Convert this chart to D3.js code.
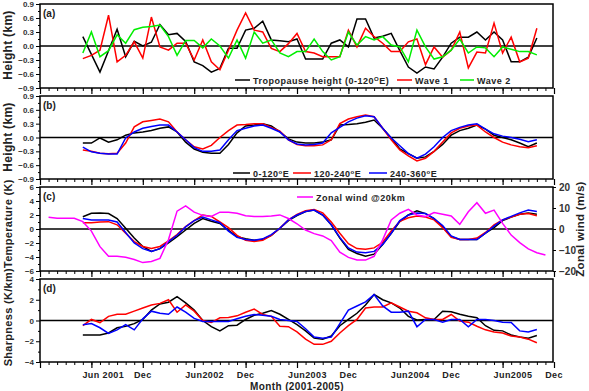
<!DOCTYPE html>
<html>
<head>
<meta charset="utf-8">
<script src="https://cdn.jsdelivr.net/npm/d3@7"></script>
<style>
  body { margin: 0; background: #fff; }
  text { font-family: "Liberation Sans", Arial, sans-serif; font-weight: bold; }
</style>
</head>
<body>
<script>
// month index: 0 = Dec 2000, data run May 2001 (5) .. Oct 2005 (58)
var firstMonth = 5;
var windFirstMonth = 1;

// (a) tropopause height and waves (km)
var tropHeight = [0.2,-0.18,-0.56,-0.1,0.36,-0.23,0.1,0.0,0.08,0.46,0.24,0.27,0.1,-0.34,-0.42,-0.56,-0.48,-0.05,-0.05,0.34,0.38,0.53,0.13,0.11,0.09,0.15,-0.28,-0.28,-0.28,0.06,0.13,-0.02,0.58,0.58,0.17,0.21,0.27,-0.1,-0.45,-0.58,-0.45,-0.49,-0.24,0.06,0.19,0.19,0.3,0.13,0.3,0.13,-0.34,-0.34,-0.24,0.17];
var wave1 = [-0.27,-0.2,-0.09,0.66,-0.34,-0.2,0.09,-0.26,0.62,-0.02,-0.09,0.06,0.06,-0.3,0.13,-0.34,-0.51,-0.09,0.34,0.71,0.34,0.3,-0.05,-0.12,0.05,0.27,-0.12,-0.15,-0.23,-0.23,-0.23,0.34,-0.02,0.38,0.2,0.06,-0.12,-0.12,0.09,0.15,-0.4,-0.02,-0.24,-0.09,0.3,-0.47,-0.13,-0.15,0.49,-0.15,0.19,-0.34,-0.26,0.38];
var wave2 = [-0.15,0.3,-0.23,-0.1,0.24,0.06,0.35,0.4,0.42,0.45,0.2,-0.2,0.12,0.12,-0.04,0.15,0.0,-0.26,0.13,-0.26,0.3,0.06,0.13,-0.15,-0.23,-0.12,-0.12,0.15,-0.12,-0.3,-0.23,0.3,0.02,0.2,0.13,0.2,0.02,-0.02,-0.34,0.34,-0.02,-0.28,-0.23,-0.09,0.15,-0.15,-0.02,-0.04,-0.23,-0.02,-0.07,-0.12,-0.12,-0.19];

// (b) height by longitude sector (km)
var hgt0_120 = [-0.12,-0.12,-0.01,-0.1,-0.05,0.05,0.1,0.12,0.15,0.2,0.23,0.12,-0.1,-0.25,-0.32,-0.34,-0.34,-0.15,0.1,0.25,0.27,0.3,0.25,0.12,-0.03,-0.1,-0.12,-0.12,-0.1,-0.05,0.27,0.28,0.3,0.33,0.38,0.2,-0.01,-0.25,-0.35,-0.45,-0.42,-0.3,-0.15,0.05,0.15,0.2,0.27,0.18,0.05,0.0,-0.05,-0.12,-0.2,-0.12];
var hgt120_240 = [-0.27,-0.3,-0.34,-0.35,-0.34,-0.12,0.23,0.34,0.37,0.4,0.34,0.12,-0.05,-0.2,-0.25,-0.17,0.0,0.15,0.27,0.28,0.3,0.3,0.22,0.14,-0.05,-0.15,-0.18,-0.18,-0.16,-0.05,0.3,0.4,0.45,0.49,0.45,0.2,-0.05,-0.27,-0.4,-0.51,-0.45,-0.3,-0.1,0.1,0.2,0.25,0.27,0.12,0.0,-0.1,-0.16,-0.2,-0.22,-0.18];
var hgt240_360 = [-0.21,-0.31,-0.34,-0.36,-0.36,-0.01,0.12,0.2,0.24,0.27,0.27,0.12,-0.05,-0.22,-0.3,-0.3,-0.27,-0.05,0.15,0.2,0.25,0.27,0.2,0.12,-0.05,-0.14,-0.16,-0.15,-0.12,0.1,0.22,0.34,0.42,0.47,0.45,0.2,-0.01,-0.18,-0.35,-0.45,-0.36,-0.2,0.0,0.15,0.22,0.27,0.3,0.18,0.08,0.03,0.0,-0.04,-0.09,-0.05];

// (c) temperature (K) and zonal wind at 20 km (m/s)
var temp0_120 = [1.76,2.24,2.3,2.2,1.5,0.1,-1.3,-2.5,-3.2,-2.8,-2.0,-1.1,-0.14,0.8,1.5,1.1,0.8,-0.2,-1.1,-1.4,-1.6,-1.5,-0.9,0.1,1.2,1.9,2.5,2.7,2.0,0.6,-1.3,-2.9,-3.5,-3.9,-3.6,-2.2,-0.6,1.05,2.0,2.6,2.2,1.5,0.3,-1.1,-1.5,-1.5,-1.5,-0.6,0.2,1.2,1.7,2.1,2.3,2.1];
var temp120_240 = [0.9,0.9,1.0,1.05,0.6,-0.6,-1.8,-2.5,-2.8,-2.5,-1.7,-0.8,0.33,1.2,2.0,1.8,1.0,0.2,-0.9,-1.6,-1.8,-1.6,-0.9,0.1,1.3,2.1,2.6,2.8,2.3,1.0,-0.6,-2.1,-2.8,-2.9,-2.7,-1.9,-0.3,1.1,1.6,1.86,1.7,1.3,0.2,-1.2,-1.5,-1.5,-1.3,-0.5,0.6,1.3,1.7,2.1,2.2,1.9];
var temp240_360 = [1.5,1.3,1.3,1.3,1.0,-0.5,-2.0,-2.8,-3.2,-2.8,-1.8,-0.9,0.3,1.2,1.7,1.3,0.9,-0.3,-1.2,-1.5,-1.6,-1.4,-0.8,0.1,1.3,2.0,2.5,2.7,2.0,0.6,-1.2,-2.7,-3.3,-3.4,-3.2,-2.2,-0.6,1.2,2.0,2.3,2.2,1.5,0.5,-1.0,-1.5,-1.5,-1.5,-0.6,0.4,1.3,1.8,2.3,2.7,2.5];
var zonalWind = [5.6,5.1,5.1,5.1,3.5,-1,-8.4,-13,-13,-13.5,-14.5,-16,-15.5,-14,-5,8.5,11,8,6.5,6.0,8.0,8.0,7.5,6.3,5.9,5.9,6.2,6.7,5.0,2.5,-0.5,-2.2,-3.3,-5.5,-11,-13.5,-14.8,-14.8,-13,-5.2,4.3,7.5,9.4,6.7,5.9,7.8,7.0,6.2,2.2,8.2,12.5,7.5,9,2.7,-2.9,-6.5,-9.5,-11.3,-12.4];

// (d) sharpness (K/km)
var sharp0_120 = [-1.4,-1.4,-1.4,-1.2,-0.7,-0.55,-0.3,0.1,1.0,1.6,1.76,2.3,1.7,1.0,0.0,-0.6,-1.0,-0.5,-0.45,0.1,0.5,0.7,0.96,0.6,0.1,-0.4,-1.0,-1.7,-1.8,-1.5,-0.5,0.1,0.7,1.5,2.5,2.0,1.7,1.2,0.4,0.05,0.1,0.1,0.9,0.85,0.6,0.4,0.26,-0.5,-0.95,-1.0,-1.4,-1.6,-1.7,-1.44];
var sharp120_240 = [-0.5,0.1,-0.2,0.4,0.6,0.6,0.9,1.2,1.5,1.65,2.0,0.8,1.5,0.9,0.0,-0.2,0.26,0.3,0.45,0.8,1.1,0.58,0.4,-0.55,-0.6,-1.1,-1.8,-2.3,-2.3,-2.0,-1.2,-0.5,0.1,1.2,1.3,1.3,1.7,1.3,0.9,0.74,0.26,0.1,0.1,0.58,-0.06,-0.16,-0.55,-0.9,-1.1,-1.2,-1.5,-1.6,-1.8,-2.15];
var sharp240_360 = [-0.4,-0.3,-0.7,-1.25,-0.9,-0.4,-0.9,0.16,0.9,0.7,0.6,1.3,0.8,0.2,-0.1,-0.1,-0.1,-0.1,0.16,0.4,0.58,0.5,0.4,0.1,0.0,-0.1,-0.8,-1.6,-1.7,-1.6,-0.3,1.0,1.4,1.8,2.5,1.4,0.8,0.8,0.9,-0.6,0.1,0.1,-0.16,0.1,0.1,-0.6,0.1,0.1,0.0,-0.16,-0.2,-1.0,-1.1,-0.86];

// axis ticks and labels
var heightTicks = [0.9, 0.6, 0.3, 0.0, -0.3, -0.6, -0.9];
var tempTicks = [6, 4, 2, 0, -2, -4, -6];
var sharpTicks = [4, 2, 0, -2, -4];
var windTicks = [20, 10, 0, -10, -20];
var monthTicks = [6, 12, 18, 24, 30, 36, 42, 48, 54, 60];
var monthLabels = ["Jun 2001", "Dec", "Jun2002", "Dec", "Jun2003", "Dec", "Jun2004", "Dec", "Jun2005", "Dec"];

var width = 589, height = 391;
var left = 40, right = 553;

var svg = d3.select("body").append("svg")
    .attr("width", width)
    .attr("height", height);

var x = d3.scaleLinear().domain([0, 60]).range([left, 554]);

// titleAnchor: where along the rotated axis the title sits
var panels = [
  { tag: "(a)", top: 4, bottom: 88, domain: [-0.9, 0.9], ticks: heightTicks, fmt: d3.format(".1f"), title: "Height (km)", titleY: 45, anchor: "middle",
    series: [{ data: tropHeight, color: "#000000" }, { data: wave1, color: "#ff0000" }, { data: wave2, color: "#00ee00" }] },
  { tag: "(b)", top: 96, bottom: 179, domain: [-0.9, 0.9], ticks: heightTicks, fmt: d3.format(".1f"), title: "Height (km)", titleY: 137, anchor: "middle",
    series: [{ data: hgt0_120, color: "#000000" }, { data: hgt120_240, color: "#ff0000" }, { data: hgt240_360, color: "#0000ff" }] },
  { tag: "(c)", top: 187, bottom: 271, domain: [-6, 6], ticks: tempTicks, fmt: d3.format("d"), title: "Temperature (K)", titleY: 268, anchor: "start",
    series: [{ data: temp0_120, color: "#000000" }, { data: temp120_240, color: "#ff0000" }, { data: temp240_360, color: "#0000ff" }] },
  { tag: "(d)", top: 279, bottom: 362, domain: [-4, 4], ticks: sharpTicks, fmt: d3.format("d"), title: "Sharpness (K/km)", titleY: 268, anchor: "end",
    series: [{ data: sharp0_120, color: "#000000" }, { data: sharp120_240, color: "#ff0000" }, { data: sharp240_360, color: "#0000ff" }] }
];

panels.forEach(function(p, pi) {
  var y = d3.scaleLinear().domain(p.domain).range([p.bottom, p.top]);
  var g = svg.append("g");

  // monthly minor ticks and half-year major ticks, hanging below the frame
  g.append("g")
      .attr("transform", "translate(0," + p.bottom + ")")
      .call(d3.axisBottom(x).tickValues(d3.range(0, 61)).tickSize(3).tickFormat(""))
      .call(function(s) { s.select(".domain").remove(); s.selectAll("line").attr("stroke-width", 1); });
  g.append("g")
      .attr("transform", "translate(0," + p.bottom + ")")
      .call(d3.axisBottom(x).tickValues(monthTicks.concat([0])).tickSize(6).tickFormat(""))
      .call(function(s) { s.select(".domain").remove(); s.selectAll("line").attr("stroke-width", 1.2); });

  // left axis
  var minor = [];
  for (var i = 0; i < p.ticks.length - 1; i++) minor.push((p.ticks[i] + p.ticks[i + 1]) / 2);
  g.append("g")
      .attr("transform", "translate(" + left + ",0)")
      .call(d3.axisLeft(y).tickValues(minor).tickSize(2).tickFormat(""))
      .call(function(s) { s.select(".domain").remove(); });
  g.append("g")
      .attr("transform", "translate(" + left + ",0)")
      .call(d3.axisLeft(y).tickValues(p.ticks).tickSize(4).tickPadding(2).tickFormat(p.fmt))
      .call(function(s) {
        s.select(".domain").remove();
        s.selectAll("text").attr("font-size", 8).attr("fill", "#333").attr("font-family", "Liberation Sans, Arial, sans-serif").attr("font-weight", "bold");
      });

  // zero line
  g.append("line")
      .attr("x1", left).attr("x2", right)
      .attr("y1", y(0)).attr("y2", y(0))
      .attr("stroke", "#000").attr("stroke-width", 1.5);

  var line = d3.line()
      .x(function(d, i) { return x(firstMonth + i); })
      .y(function(d) { return y(d); });

  p.series.forEach(function(s) {
    g.append("path")
        .attr("d", line(s.data))
        .attr("fill", "none")
        .attr("stroke", s.color)
        .attr("stroke-width", 1.5);
  });

  if (pi === 2) {
    var yw = d3.scaleLinear().domain([-20, 20]).range([p.bottom, p.top]);
    var wline = d3.line()
        .x(function(d, i) { return x(windFirstMonth + i); })
        .y(function(d) { return yw(d); });
    g.append("path")
        .attr("d", wline(zonalWind))
        .attr("fill", "none")
        .attr("stroke", "#ff00ff")
        .attr("stroke-width", 1.5);
    g.append("g")
        .attr("transform", "translate(" + right + ",0)")
        .call(d3.axisRight(yw).tickValues(windTicks).tickSize(3).tickPadding(3))
        .call(function(s) {
          s.select(".domain").remove();
          s.selectAll("text").attr("font-size", 10).attr("fill", "#333").attr("font-family", "Liberation Sans, Arial, sans-serif").attr("font-weight", "bold");
        });
    svg.append("text")
        .attr("transform", "translate(584," + ((p.top + p.bottom) / 2) + ") rotate(-90)")
        .attr("text-anchor", "middle")
        .attr("font-size", 11.5)
        .attr("letter-spacing", 0.3)
        .attr("fill", "#222")
        .text("Zonal wind (m/s)");
  }

  // frame
  g.append("rect")
      .attr("x", left).attr("y", p.top)
      .attr("width", right - left).attr("height", p.bottom - p.top)
      .attr("fill", "none").attr("stroke", "#000").attr("stroke-width", 1.5);

  g.append("text")
      .attr("x", left + 3).attr("y", p.top + 13)
      .attr("font-size", 10)
      .attr("fill", "#222")
      .text(p.tag);

  svg.append("text")
      .attr("transform", "translate(12," + p.titleY + ") rotate(-90)")
      .attr("text-anchor", p.anchor)
      .attr("font-size", p.anchor === "middle" ? 12 : 11)
      .attr("letter-spacing", 0.3)
      .attr("fill", "#222")
      .text(p.title);
});

// legends
function legendItem(x0, x1, yy, color, parts) {
  svg.append("line")
      .attr("x1", x0).attr("x2", x1).attr("y1", yy).attr("y2", yy)
      .attr("stroke", color).attr("stroke-width", 1.5);
  var t = svg.append("text")
      .attr("x", x1 + 3).attr("y", yy + 3.5)
      .attr("font-size", 9)
      .attr("letter-spacing", 0.5)
      .attr("fill", "#222");
  parts.forEach(function(pt) {
    var ts = t.append("tspan").text(pt.t);
    if (pt.sup) ts.attr("font-size", 6).attr("dy", -3);
    if (pt.down) ts.attr("dy", 3);
  });
}

legendItem(235, 250, 80, "#000000", [{ t: "Tropopause height (0-120" }, { t: "O", sup: true }, { t: "E)", down: true }]);
legendItem(397, 412, 80, "#ff0000", [{ t: "Wave 1" }]);
legendItem(460, 474, 80, "#00ee00", [{ t: "Wave 2" }]);

legendItem(233, 250, 173, "#000000", [{ t: "0-120" }, { t: "o", sup: true }, { t: "E", down: true }]);
legendItem(293, 311, 173, "#ff0000", [{ t: "120-240" }, { t: "o", sup: true }, { t: "E", down: true }]);
legendItem(369, 387, 173, "#0000ff", [{ t: "240-360" }, { t: "o", sup: true }, { t: "E", down: true }]);

legendItem(297, 313, 197, "#ff00ff", [{ t: "Zonal wind @20km" }]);

// month labels under bottom panel
svg.selectAll(".mlabel")
    .data(monthTicks)
    .enter().append("text")
    .attr("class", "mlabel")
    .attr("x", function(d) { return x(d); })
    .attr("dx", function(d, i) { return monthLabels[i].indexOf("Jun") === 0 ? -9 : 0; })
    .attr("y", 378)
    .attr("text-anchor", function(d, i) { return monthLabels[i].indexOf("Jun") === 0 ? "start" : "middle"; })
    .attr("font-size", 9)
    .attr("letter-spacing", 0.4)
    .attr("fill", "#222")
    .text(function(d, i) { return monthLabels[i]; });

svg.append("text")
    .attr("x", 297).attr("y", 390)
    .attr("text-anchor", "middle")
    .attr("font-size", 10)
    .attr("letter-spacing", 0.4)
    .attr("fill", "#222")
    .text("Month (2001-2005)");
</script>
</body>
</html>
